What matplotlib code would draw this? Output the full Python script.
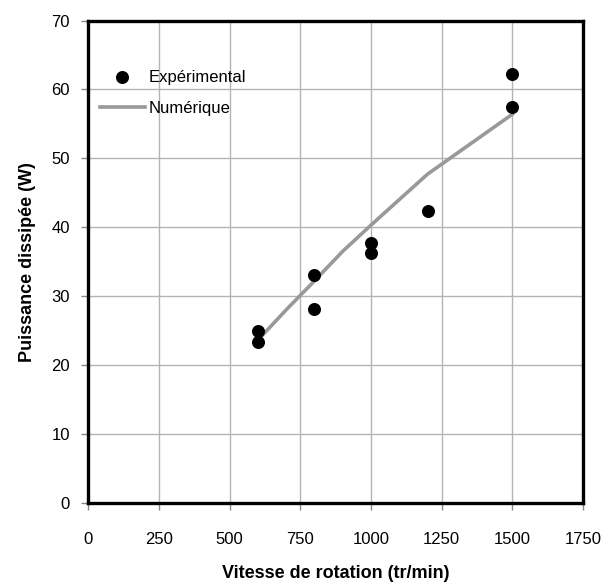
import matplotlib.pyplot as plt

plt.rcParams['font.family'] = ['Liberation Sans', 'DejaVu Sans']

# experimental measurements
exp_speed = [600, 600, 800, 800, 1000, 1000, 1200, 1500, 1500]
exp_power = [25.0, 23.3, 33.1, 28.1, 37.7, 36.2, 42.3, 62.3, 57.5]

# numerical model
num_speed = [600, 700, 800, 900, 1000, 1100, 1200, 1500]
num_power = [23.6, 28.0, 32.2, 36.5, 40.3, 44.0, 47.7, 56.4]

x_ticks = [0, 250, 500, 750, 1000, 1250, 1500, 1750]
y_ticks = [0, 10, 20, 30, 40, 50, 60, 70]

fig = plt.figure(figsize=(6.08, 5.86), dpi=100)
ax = fig.add_axes([0.145, 0.142, 0.814, 0.823])

ax.scatter(exp_speed, exp_power, s=70, color='black', zorder=3, label='Expérimental')
ax.plot(num_speed, num_power, color='#999999', linewidth=2.6, zorder=2, label='Numérique')

ax.set_xlim(0, 1750)
ax.set_ylim(0, 70)
ax.set_xticks(x_ticks)
ax.set_yticks(y_ticks)
ax.grid(True, color='#b4b4b4', linewidth=1.0)
ax.set_axisbelow(True)

for sp in ax.spines.values():
    sp.set_linewidth(2.4)
    sp.set_color('black')

ax.tick_params(direction='out', length=5, width=1, color='#888888', labelsize=12)
ax.tick_params(axis='x', pad=16)
ax.tick_params(axis='y', pad=8)

ax.set_xlabel('Vitesse de rotation (tr/min)', fontsize=13, fontweight='bold', labelpad=13)
ax.set_ylabel('Puissance dissipée (W)', fontsize=13, fontweight='bold', labelpad=11)

ax.legend(loc='center left', bbox_to_anchor=(0.0, 0.85), frameon=False, fontsize=12,
          handlelength=2.7, handletextpad=0.2, labelspacing=1.0, borderaxespad=0.3)

fig.savefig('out.png', dpi=100)
